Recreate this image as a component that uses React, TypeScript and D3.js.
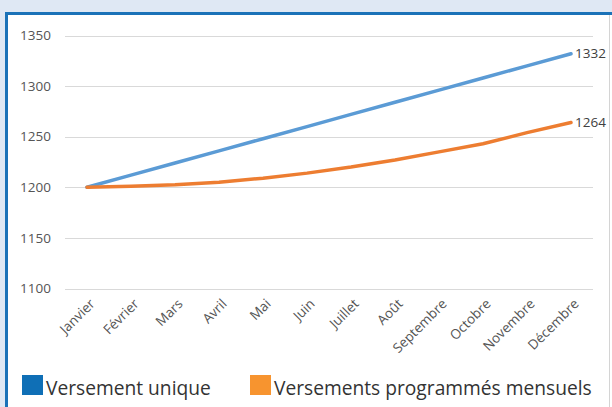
import React, { useEffect, useRef } from 'react';
import * as d3 from 'd3';

const months = [
  'Janvier', 'Février', 'Mars', 'Avril', 'Mai', 'Juin',
  'Juillet', 'Août', 'Septembre', 'Octobre', 'Novembre', 'Décembre',
];
const versementUnique = [1200, 1212, 1224, 1236, 1248, 1260, 1272, 1284, 1296, 1308, 1320, 1332];
const versementsMensuels = [1200, 1201, 1202.5, 1205, 1209, 1214, 1220, 1227, 1235, 1243, 1254, 1264];
const yTicks = [1100, 1150, 1200, 1250, 1300, 1350];
const seriesNames = ['Versement unique', 'Versements programmés mensuels'];

function App() {
  const ref = useRef<SVGSVGElement>(null);

  useEffect(() => {
    const svg = d3.select(ref.current);
    svg.selectAll('*').remove();

    const width = 612;
    const height = 407;
    const font = "'Open Sans', sans-serif";

    // page background + framed panel
    svg.append('rect').attr('width', width).attr('height', height).attr('fill', '#dfe8f4');
    svg.append('rect')
      .attr('x', 6.5).attr('y', 13.5)
      .attr('width', width).attr('height', height)
      .attr('fill', '#fff')
      .attr('stroke', '#1b72b8').attr('stroke-width', 3);
    svg.append('line')
      .attr('x1', 609.5).attr('x2', 609.5).attr('y1', 15).attr('y2', height)
      .attr('stroke', '#d4d4d4');

    const x = d3.scaleBand().domain(months).range([65, 593]);
    const cx = (m: string) => (x(m) as number) + x.bandwidth() / 2;
    const y = d3.scaleLinear().domain([1100, 1350]).range([288.5, 35.5]);

    // grid
    const grid = svg.append('g');
    grid.selectAll('line')
      .data(yTicks)
      .join('line')
      .attr('x1', 65).attr('x2', 593)
      .attr('y1', (d) => Math.round(y(d)) + 0.5)
      .attr('y2', (d) => Math.round(y(d)) + 0.5)
      .attr('stroke', '#d9d9d9');

    grid.selectAll('text')
      .data(yTicks)
      .join('text')
      .attr('x', 51)
      .attr('y', (d) => y(d))
      .attr('dy', '0.35em')
      .attr('text-anchor', 'end')
      .attr('font-family', font)
      .attr('font-size', 13.5)
      .attr('fill', '#555')
      .text((d) => d);

    // month labels
    svg.append('g')
      .selectAll('text')
      .data(months)
      .join('text')
      .attr('transform', (d) => `translate(${cx(d) + 2},${298}) rotate(-45)`)
      .attr('text-anchor', 'end')
      .attr('dy', '0.7em')
      .attr('font-family', font)
      .attr('font-size', 13.5)
      .attr('fill', '#555')
      .text((d) => d);

    const line = d3.line<number>()
      .x((_, i) => cx(months[i]))
      .y((d) => y(d));

    const series = [
      { values: versementUnique, color: '#5b9bd5' },
      { values: versementsMensuels, color: '#ed7d31' },
    ];

    series.forEach((s) => {
      svg.append('path')
        .datum(s.values)
        .attr('d', line)
        .attr('fill', 'none')
        .attr('stroke', s.color)
        .attr('stroke-width', 3.5)
        .attr('stroke-linecap', 'round')
        .attr('stroke-linejoin', 'round');

      const last = s.values[s.values.length - 1];
      svg.append('text')
        .attr('x', cx(months[months.length - 1]) + 4)
        .attr('y', y(last))
        .attr('dy', '0.35em')
        .attr('font-family', font)
        .attr('font-size', 13.5)
        .attr('fill', '#404040')
        .text(last);
    });

    // legend
    const legendX = [22, 250];
    const legendColors = ['#0f6fb6', '#f7942f'];
    const legend = svg.append('g');
    seriesNames.forEach((name, i) => {
      legend.append('rect')
        .attr('x', legendX[i]).attr('y', 375)
        .attr('width', 21).attr('height', 20)
        .attr('fill', legendColors[i]);
      legend.append('text')
        .attr('x', legendX[i] + 24)
        .attr('y', 395)
        .attr('font-family', font)
        .attr('font-size', 19.2)
        .attr('fill', '#333')
        .text(name);
    });
  }, []);

  return (
    <svg
      ref={ref}
      width={612}
      height={407}
      style={{ position: 'absolute', left: 0, top: 0, display: 'block' }}
    />
  );
}

export default App;
